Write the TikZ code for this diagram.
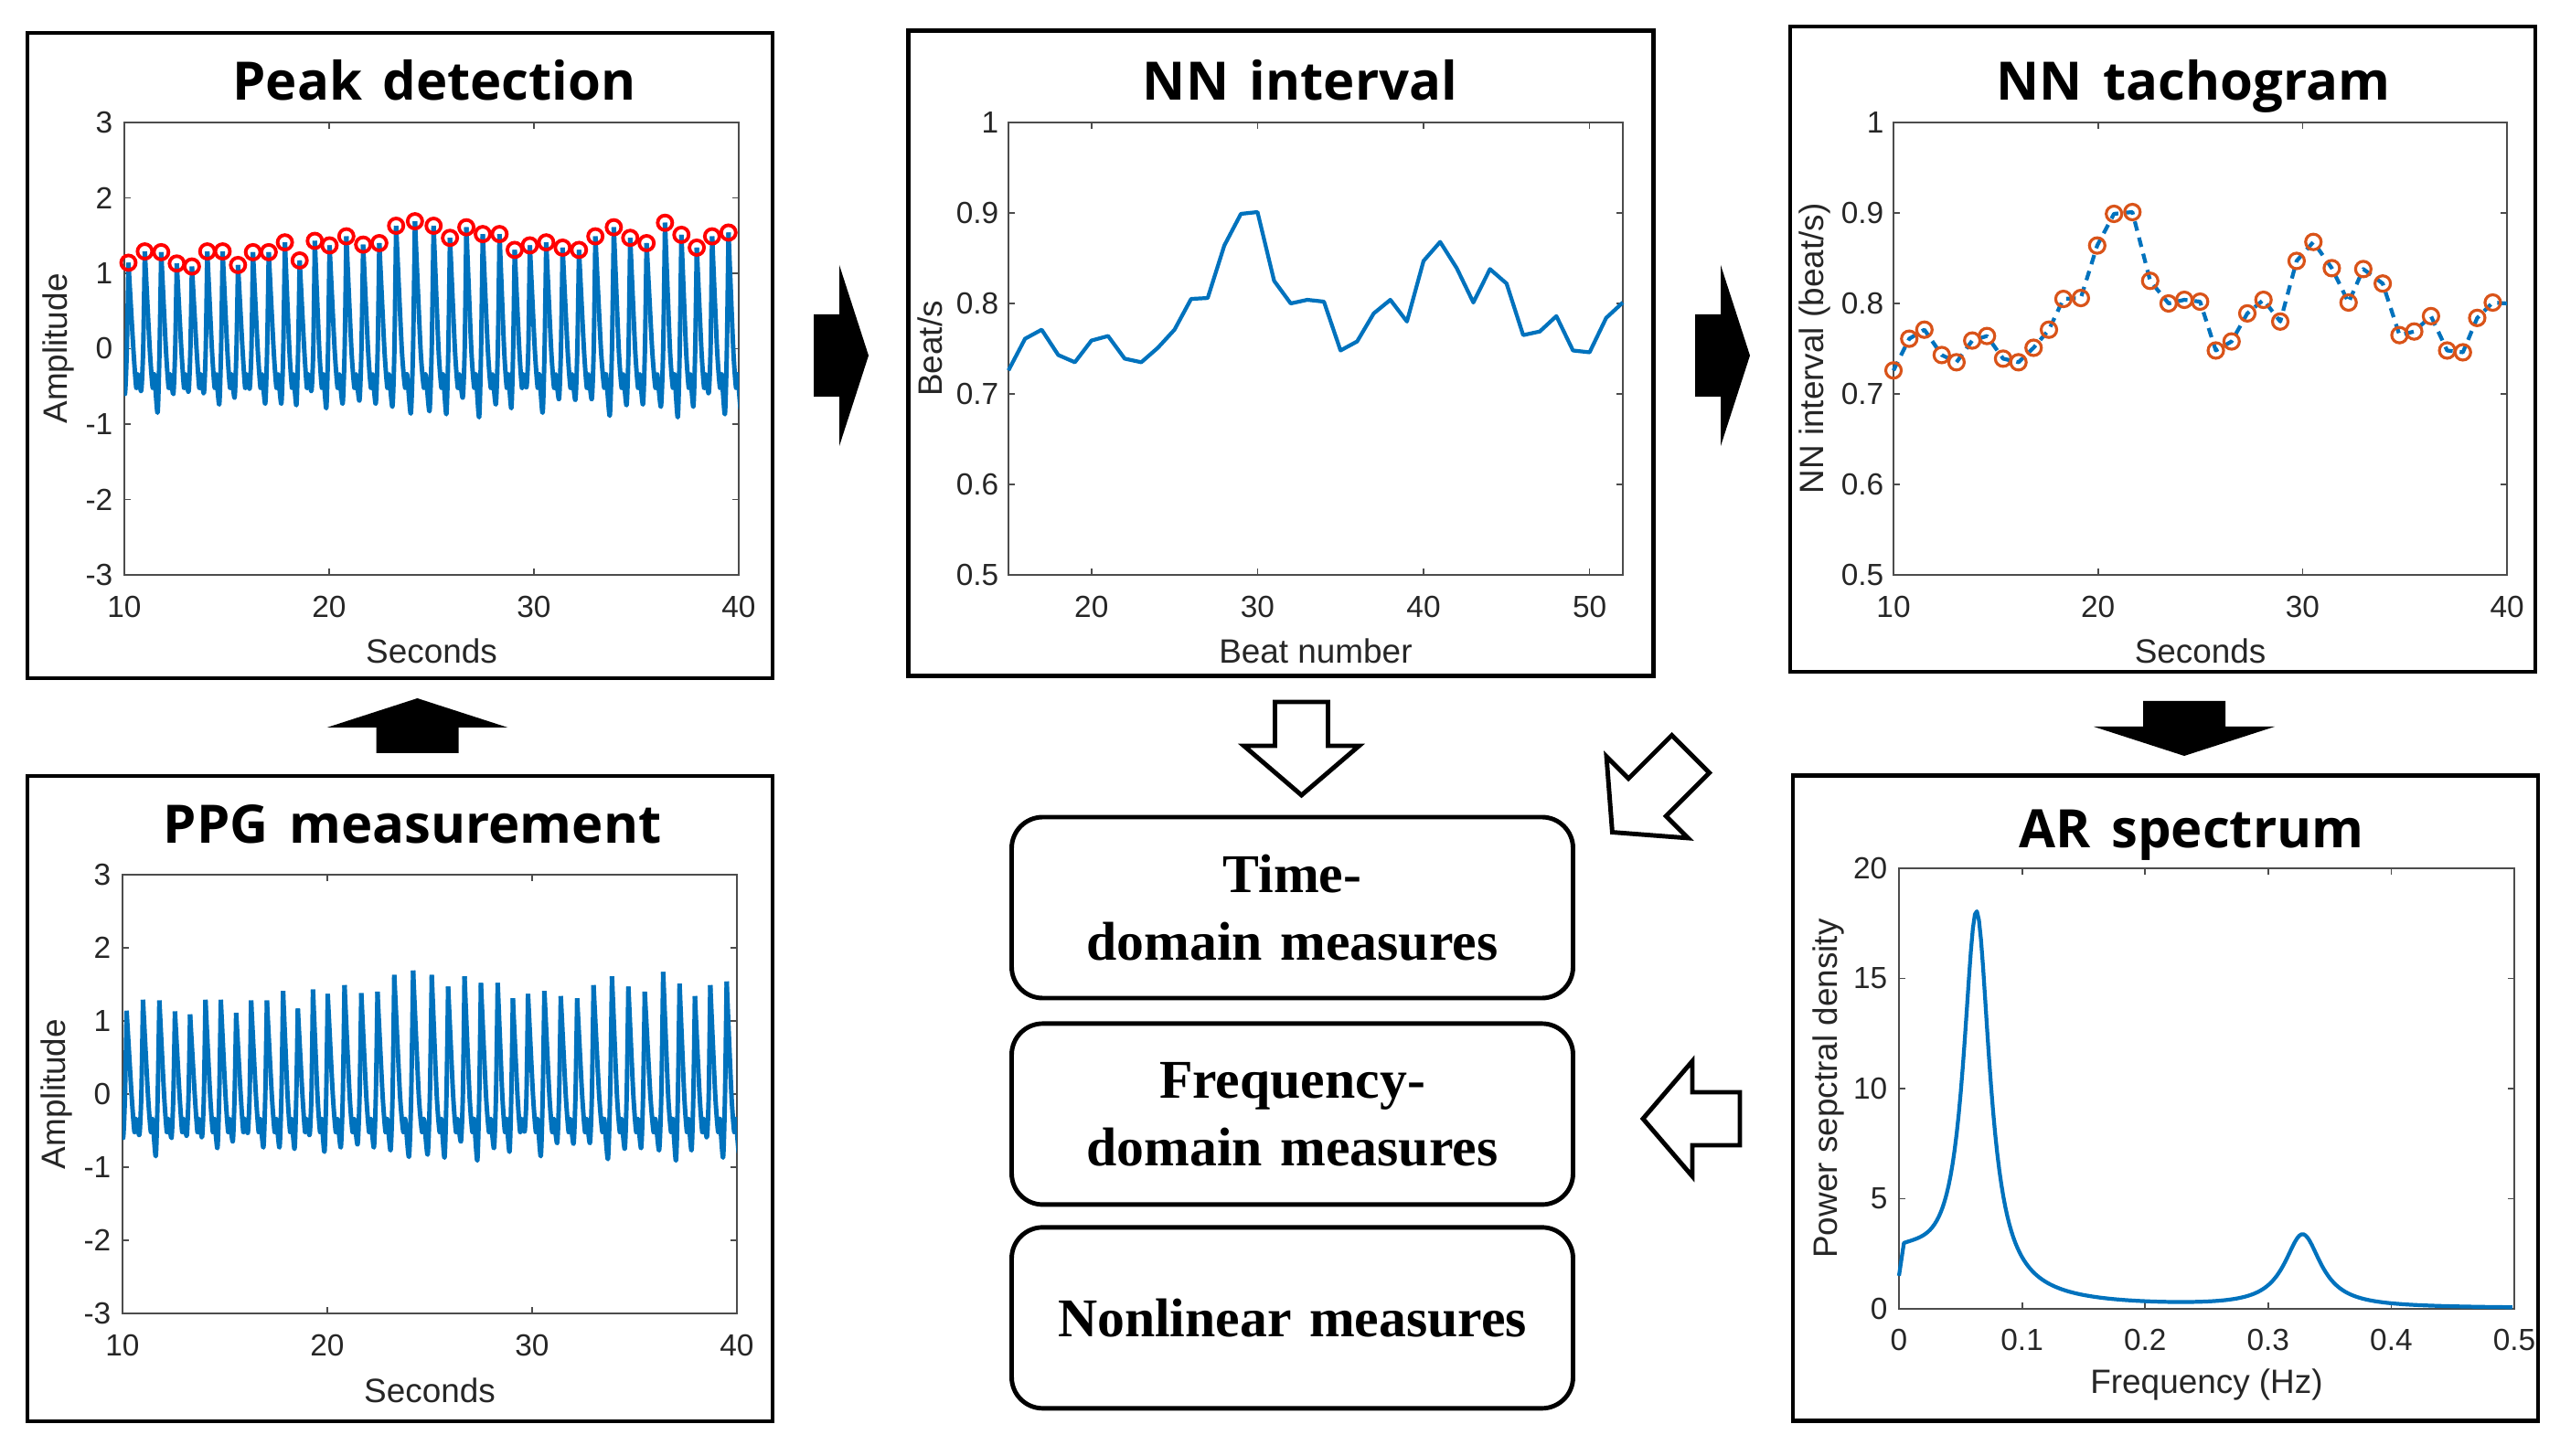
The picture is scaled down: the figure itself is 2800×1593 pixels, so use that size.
\documentclass[tikz,border=0pt]{standalone}
\usepackage{fontspec}
\usetikzlibrary{positioning}
\IfFontExistsTF{Noto Sans Bold}
  {\newfontfamily\ttlfam{Noto Sans Bold}[WordSpace=1.5]}
  {\IfFontExistsTF{Open Sans Bold}
    {\newfontfamily\ttlfam{Open Sans Bold}[WordSpace=1.5]}
    {\newfontfamily\ttlfam{DejaVu Sans Bold}[WordSpace=1.3]}}
\newfontfamily\boxfam{Liberation Serif}[WordSpace=1.3]
\newfontfamily\axfam{Liberation Sans}
\definecolor{mlblue}{HTML}{0072BD}
\definecolor{mlorange}{HTML}{D95319}
\definecolor{axgray}{HTML}{262626}

% PPG peaks: time/amplitude/trough before the peak
\def\ppgdata{10.2/1.14/-0.6, 11.0/1.29/-0.56, 11.8/1.28/-0.85, 12.56/1.13/-0.6,
  13.3/1.09/-0.57, 14.05/1.29/-0.59, 14.8/1.29/-0.74, 15.55/1.11/-0.65,
  16.28/1.28/-0.53, 17.05/1.28/-0.73, 17.84/1.41/-0.73, 18.56/1.17/-0.75,
  19.3/1.43/-0.56, 20.02/1.37/-0.79, 20.84/1.49/-0.73, 21.66/1.38/-0.69,
  22.45/1.40/-0.73, 23.27/1.63/-0.77, 24.19/1.69/-0.86, 25.1/1.63/-0.83,
  25.9/1.47/-0.87, 26.7/1.61/-0.65, 27.5/1.52/-0.91, 28.32/1.52/-0.74,
  29.06/1.31/-0.79, 29.8/1.37/-0.51, 30.6/1.41/-0.85, 31.4/1.34/-0.67,
  32.2/1.31/-0.68, 33.0/1.49/-0.67, 33.9/1.61/-0.89, 34.7/1.47/-0.75,
  35.5/1.40/-0.74, 36.4/1.67/-0.77, 37.2/1.51/-0.91, 37.95/1.34/-0.77,
  38.7/1.49/-0.59, 39.5/1.54/-0.87, 40.27/1.3/-0.8}
% NN intervals: time/interval
\def\nndata{10.0/0.726, 10.77/0.761, 11.51/0.771, 12.36/0.743, 13.08/0.735,
  13.85/0.759, 14.57/0.764, 15.36/0.739, 16.11/0.735, 16.85/0.751, 17.6/0.771,
  18.31/0.805, 19.16/0.806, 19.96/0.864, 20.78/0.899, 21.68/0.901, 22.55/0.825,
  23.45/0.800, 24.22/0.804, 24.99/0.802, 25.76/0.748, 26.53/0.758, 27.3/0.789,
  28.09/0.804, 28.91/0.780, 29.71/0.847, 30.53/0.868, 31.43/0.839, 32.25/0.801,
  32.97/0.838, 33.92/0.822, 34.74/0.765, 35.46/0.769, 36.28/0.786, 37.07/0.748,
  37.84/0.746, 38.54/0.784, 39.3/0.801}

\newcommand\ppgwave{%
  \begin{scope}
  \clip (10,-3) rectangle (40,3);
  \foreach \p/\a/\m [remember=\p as \pp (initially 9.43), remember=\a as \ap (initially 1.2)] in \ppgdata
    \draw[sig,line width=1.4pt] plot[smooth,tension=.4] coordinates {(\pp,\ap) ({\pp+.3*(\p-\pp)},0)
      ({\pp+.48*(\p-\pp)},-.52) ({\pp+.58*(\p-\pp)},-.34) ({\pp+.78*(\p-\pp)},\m)
      ({\pp+.9*(\p-\pp)},0) (\p,\a)};
  \end{scope}}

\tikzset{
  panel/.style={draw,line width=1.4pt,minimum width=81.5mm,minimum height=70.6mm,inner sep=0pt},
  ttl/.style={anchor=base,inner sep=0pt,font=\ttlfam\fontsize{16.5}{20}\selectfont},
  meas/.style={draw,rounded corners=3.4mm,line width=1.4pt,minimum width=61.4mm,minimum height=19.8mm,
    align=center,inner sep=0pt,font=\boxfam\bfseries\fontsize{17}{21}\selectfont},
  axline/.style={draw=black!70,line width=0.5pt},
  tk/.style={inner sep=0pt,text=axgray,font=\axfam\fontsize{9.5}{11}\selectfont},
  lbl/.style={inner sep=0pt,text=axgray,font=\axfam\fontsize{10.5}{12}\selectfont},
  sig/.style={mlblue,line width=1.2pt,line join=round},
  peakmk/.style={red,line width=1.1pt},
  nnmk/.style={mlorange,line width=0.9pt},
  blkarrow/.pic={\fill (0,-45) -- (28,-45) -- (28,-99) -- (60,0) -- (28,99) -- (28,45) -- (0,45) -- cycle;},
  pics/hollow/.style={code={\draw[line width=1.4pt,fill=white] (0,-29) -- (#1,-29) -- (#1,-63)
    -- ({#1+54},0) -- (#1,63) -- (#1,29) -- (0,29) -- cycle;}},
}

\begin{document}
\begin{tikzpicture}[x=0.1mm,y=0.1mm]
\fill[white] (0,0) rectangle (2800,-1593);
\useasboundingbox (0,0) rectangle (2800,-1593);

% peak detection
\node[panel] (peak) at (437.5,-389) {};
\node[ttl] (peakT) at (475,-110) {Peak detection};
\begin{scope}[shift={(-88,-381.5)},x=2.24mm,y=8.25mm]
  \draw[axline] (10,-3) rectangle (40,3);
  \foreach \x in {10,20,30,40} {
    \draw[axline] (\x,-3) -- ++(0,0.7mm) (\x,3) -- ++(0,-0.7mm);
    \node[tk,anchor=base] at ([yshift=-4.7mm]\x,-3) {\x};}
  \foreach \y in {-3,...,3} {
    \draw[axline] (10,\y) -- ++(0.7mm,0) (40,\y) -- ++(-0.7mm,0);
    \node[tk,anchor=east] at ([xshift=-1.2mm]10,\y) {\y};}
  \node[lbl,anchor=base] at ([yshift=-9.7mm]25,-3) {Seconds};
  \node[lbl,rotate=90] at ([xshift=-7.2mm]10,0) {Amplitude};
  \ppgwave
  \foreach \p/\a/\m in \ppgdata {\ifdim\p pt<40pt \draw[peakmk] (\p,\a) circle[radius=0.8mm];\fi}
\end{scope}

% PPG measurement
\node[panel] (ppg) at (437.5,-1202) {};
\node[ttl] (ppgT) at (451,-923) {PPG measurement};
\begin{scope}[shift={(-90,-1197)},x=2.24mm,y=8.0mm]
  \draw[axline] (10,-3) rectangle (40,3);
  \foreach \x in {10,20,30,40} {
    \draw[axline] (\x,-3) -- ++(0,0.7mm) (\x,3) -- ++(0,-0.7mm);
    \node[tk,anchor=base] at ([yshift=-4.7mm]\x,-3) {\x};}
  \foreach \y in {-3,...,3} {
    \draw[axline] (10,\y) -- ++(0.7mm,0) (40,\y) -- ++(-0.7mm,0);
    \node[tk,anchor=east] at ([xshift=-1.2mm]10,\y) {\y};}
  \node[lbl,anchor=base] at ([yshift=-9.7mm]25,-3) {Seconds};
  \node[lbl,rotate=90] at ([xshift=-7.2mm]10,0) {Amplitude};
  \ppgwave
\end{scope}

% NN interval
\node[panel] (nni) at (1401,-386.5) {};
\node[ttl] (nniT) at (1422,-110) {NN interval};
\begin{scope}[shift={(830.6,-1124)},x=1.816mm,y=99mm]
  \draw[axline] (15,0.5) rectangle (52,1);
  \foreach \x in {20,30,40,50} {
    \draw[axline] (\x,0.5) -- ++(0,0.7mm) (\x,1) -- ++(0,-0.7mm);
    \node[tk,anchor=base] at ([yshift=-4.7mm]\x,0.5) {\x};}
  \foreach \y in {0.5,0.6,0.7,0.8,0.9,1} {
    \draw[axline] (15,\y) -- ++(0.7mm,0) (52,\y) -- ++(-0.7mm,0);
    \node[tk,anchor=east] at ([xshift=-1.0mm]15,\y) {\y};}
  \node[lbl,anchor=base] at ([yshift=-9.7mm]33.5,0.5) {Beat number};
  \node[lbl,rotate=90] at ([xshift=-8.6mm]15,0.75) {Beat/s};
  \draw[sig] (15,0.726) \foreach \t/\n [count=\k from 15] in \nndata { -- (\k,\n) };
\end{scope}

% NN tachogram
\node[panel] (tacho) at (2365.5,-382) {};
\node[ttl] (tachoT) at (2399,-110) {NN tachogram};
\begin{scope}[shift={(1847.3,-1124)},x=2.237mm,y=99mm]
  \draw[axline] (10,0.5) rectangle (40,1);
  \foreach \x in {10,20,30,40} {
    \draw[axline] (\x,0.5) -- ++(0,0.7mm) (\x,1) -- ++(0,-0.7mm);
    \node[tk,anchor=base] at ([yshift=-4.7mm]\x,0.5) {\x};}
  \foreach \y in {0.5,0.6,0.7,0.8,0.9,1} {
    \draw[axline] (10,\y) -- ++(0.7mm,0) (40,\y) -- ++(-0.7mm,0);
    \node[tk,anchor=east] at ([xshift=-1.0mm]10,\y) {\y};}
  \node[lbl,anchor=base] at ([yshift=-9.7mm]25,0.5) {Seconds};
  \node[lbl,rotate=90] at ([xshift=-8.6mm]10,0.75) {NN interval (beat/s)};
  \draw[sig,dash pattern=on 3pt off 2.2pt] (10,0.726) \foreach \t/\n in \nndata { -- (\t,\n) } -- (40,0.80);
  \foreach \t/\n in \nndata \draw[nnmk] (\t,\n) circle[radius=0.85mm];
\end{scope}

% AR spectrum
\node[panel] (ar) at (2368.5,-1201.5) {};
\node[ttl] (arT) at (2397,-928) {AR spectrum};
\begin{scope}[shift={(2077,-1432)},x=134.6mm,y=2.41mm]
  \draw[axline] (0,0) rectangle (0.5,20);
  \foreach \x in {0,0.1,0.2,0.3,0.4,0.5} {
    \draw[axline] (\x,0) -- ++(0,0.7mm) (\x,20) -- ++(0,-0.7mm);
    \node[tk,anchor=base] at ([yshift=-4.5mm]\x,0) {\x};}
  \foreach \y in {0,5,10,15,20} {
    \draw[axline] (0,\y) -- ++(0.7mm,0) (0.5,\y) -- ++(-0.7mm,0);
    \node[tk,anchor=east] at ([xshift=-1.2mm]0,\y) {\y};}
  \node[lbl,anchor=base] at ([yshift=-9.2mm]0.25,0) {Frequency (Hz)};
  \node[lbl,rotate=90] at ([xshift=-7.7mm]0,10) {Power sepctral density};
  \draw[sig] (0,1.5) -- plot[domain=0.004:0.5,samples=300]
    (\x,{17.2/(1+((\x-0.063)/0.013)^2)+2.2/(1+(\x/0.05)^2)+3.3/(1+((\x-0.328)/0.018)^2)});
\end{scope}

% measures
\node[meas] (tdm) at (1413.5,-993) {Time-\\domain measures};
\node[meas,below=2.3mm of tdm] (fdm) {Frequency-\\domain measures};
\node[meas,below=2.0mm of fdm] (nlm) {Nonlinear measures};

% block arrows
\pic at (890,-389) {blkarrow};
\pic at (1854,-389) {blkarrow};
\pic[rotate=90] at (456.5,-824) {blkarrow};
\pic[rotate=-90] at (2389,-767) {blkarrow};
\pic[rotate=-90] at (1423.5,-768) {hollow=48};
\pic[rotate=225] at (1849,-825) {hollow=67};
\pic[rotate=180] at (1903,-1224) {hollow=52};
\end{tikzpicture}
\end{document}
